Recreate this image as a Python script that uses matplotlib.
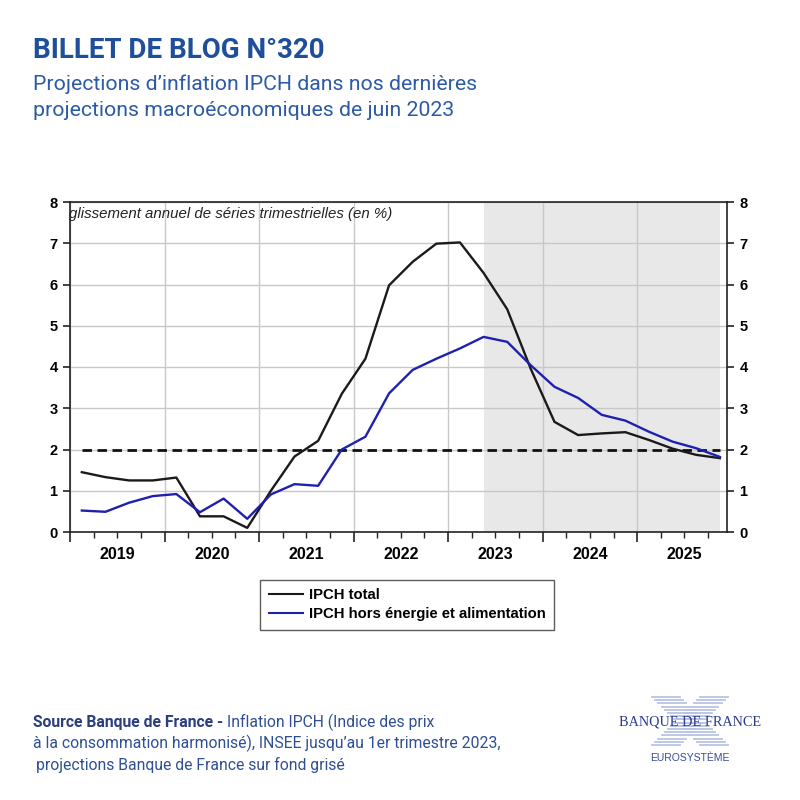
import matplotlib
matplotlib.use("Agg")
import matplotlib.pyplot as plt
from matplotlib.lines import Line2D
import numpy as np

# ---------------- data ----------------
quarters = ["2019Q1","2019Q2","2019Q3","2019Q4","2020Q1","2020Q2","2020Q3","2020Q4",
            "2021Q1","2021Q2","2021Q3","2021Q4","2022Q1","2022Q2","2022Q3","2022Q4",
            "2023Q1","2023Q2","2023Q3","2023Q4","2024Q1","2024Q2","2024Q3","2024Q4",
            "2025Q1","2025Q2","2025Q3","2025Q4"]
ipch_total = [1.45, 1.33, 1.25, 1.25, 1.32, 0.38, 0.38, 0.10,
              1.00, 1.83, 2.21, 3.35, 4.20, 5.98, 6.55, 6.99,
              7.02, 6.28, 5.40, 3.95, 2.67, 2.35, 2.39, 2.42,
              2.23, 2.02, 1.87, 1.79]
ipch_core = [0.52, 0.49, 0.71, 0.87, 0.92, 0.48, 0.81, 0.32,
             0.91, 1.16, 1.12, 2.00, 2.31, 3.36, 3.93, 4.20,
             4.45, 4.73, 4.61, 4.04, 3.52, 3.25, 2.84, 2.70,
             2.43, 2.19, 2.03, 1.82]
target = 2.0
years = ["2019", "2020", "2021", "2022", "2023", "2024", "2025"]
projection_start = "2023Q2"

def qpos(q):
    y = int(q[:4]); k = int(q[-1])
    return y + (k - 0.5) / 4.0

x = np.array([qpos(q) for q in quarters])

# ---------------- figure ----------------
fig = plt.figure(figsize=(8, 8), dpi=100)
fig.patch.set_facecolor("white")

ax = fig.add_axes([70/800, 1-532/800, (727-70)/800, (532-202)/800])

ax.axvspan(qpos(projection_start), x[-1], color="#e8e8e8", zorder=0, lw=0)
ax.plot(x, ipch_total, color="#1a1a1a", lw=1.7, zorder=4, label="IPCH total")
ax.plot(x, ipch_core, color="#2020b0", lw=1.7, zorder=4,
        label="IPCH hors énergie et alimentation")
ax.plot(x, [target]*len(x), color="#111111", lw=2.0, ls=(0, (3.4, 2.0)), zorder=3)

ax.set_xlim(2019.0, 2025.95)
ax.set_ylim(0, 8)

yr = [int(y) for y in years]
ax.set_xticks(yr)
ax.set_xticklabels([])
ax.set_xticks(np.arange(2019.0, 2026.0, 0.25), minor=True)
ax.tick_params(axis="x", which="major", length=7, width=1.2, direction="out", color="#222222")
ax.tick_params(axis="x", which="minor", length=4, width=1.0, direction="out", color="#222222")

sec = ax.secondary_xaxis("bottom")
sec.set_xticks([v + 0.5 for v in yr])
sec.set_xticklabels(years, fontsize=11.5, fontweight="bold", family="Liberation Sans")
sec.tick_params(length=0, pad=11)
sec.spines["bottom"].set_visible(False)

ax.set_yticks(range(0, 9))
ax.tick_params(axis="y", which="major", length=5, width=1.2, direction="out",
               labelsize=10.5, left=True, right=True, labelleft=True, labelright=True,
               color="#222222", pad=4)
for tk in ax.yaxis.get_major_ticks():
    for lab in (tk.label1, tk.label2):
        lab.set_family("Liberation Sans")
        lab.set_fontweight("bold")

ax.grid(True, which="major", axis="both", color="#c8c8c8", lw=1.0, zorder=1)
ax.set_axisbelow(True)
for s in ax.spines.values():
    s.set_color("#222222")
    s.set_linewidth(1.2)

ax.text(-0.002, 0.985, "glissement annuel de séries trimestrielles (en %)",
        transform=ax.transAxes, ha="left", va="top", fontsize=10.8, style="italic",
        family="Liberation Sans", color="#222222")

leg = fig.legend(loc="upper center", bbox_to_anchor=(407/800, 1-580/800), ncol=1,
                 frameon=True, fancybox=False, handlelength=2.3, handletextpad=0.4,
                 borderpad=0.55, labelspacing=0.35, borderaxespad=0.0,
                 prop={"family": "Liberation Sans", "weight": "bold", "size": 10.7})
leg.get_frame().set_edgecolor("#333333")
leg.get_frame().set_linewidth(1.0)
for h in leg.get_lines():
    h.set_linewidth(1.5)

# ---------------- titles ----------------
blue = "#1f4f9b"
fig.text(33/800, 1-50/800, "BILLET DE BLOG N°320", fontsize=20, fontweight="bold",
         family="Roboto", color=blue, ha="left", va="center")
fig.text(33/800, 1-84/800, "Projections d’inflation IPCH dans nos dernières",
         fontsize=15.3, family="Roboto", color="#2c5aa6", ha="left", va="center")
fig.text(33/800, 1-111/800, "projections macroéconomiques de juin 2023",
         fontsize=15.3, family="Roboto", color="#2c5aa6", ha="left", va="center")

# ---------------- source ----------------
src_col = "#2e4f94"
fs_src = 11.3
t1 = fig.text(33/800, 1-722/800, "Source Banque de France - ", fontsize=fs_src,
              fontweight="bold", family="Roboto", color="#2b3f80", ha="left", va="center")
fig.canvas.draw()
bb = t1.get_window_extent()
fig.text(bb.x1/800, 1-722/800, "Inflation IPCH (Indice des prix", fontsize=fs_src,
         family="Roboto", color=src_col, ha="left", va="center")
fig.text(33/800, 1-743/800, "à la consommation harmonisé), INSEE jusqu’au 1er trimestre 2023,",
         fontsize=fs_src, family="Roboto", color=src_col, ha="left", va="center")
fig.text(36/800, 1-765/800, "projections Banque de France sur fond grisé",
         fontsize=fs_src, family="Roboto", color=src_col, ha="left", va="center")

# ---------------- logo ----------------
stripe = "#b9c3e3"
for yy in np.arange(697, 747, 3.2):
    d = abs(yy - 721) * 1.0
    for cx in (690 - d, 690 + d):
        fig.add_artist(Line2D([(cx - 14)/800, (cx + 14)/800], [1-yy/800, 1-yy/800],
                              color=stripe, lw=1.3, transform=fig.transFigure))
fig.text(690/800, 1-722/800, "BANQUE DE FRANCE", fontsize=10.3, family="Liberation Serif",
         color="#2b3b8f", ha="center", va="center")
fig.text(690/800, 1-758/800, "EUROSYSTÈME", fontsize=7.5, family="Liberation Sans",
         color="#3a4a9a", ha="center", va="center")

fig.savefig("out.png", dpi=100, facecolor="white")
